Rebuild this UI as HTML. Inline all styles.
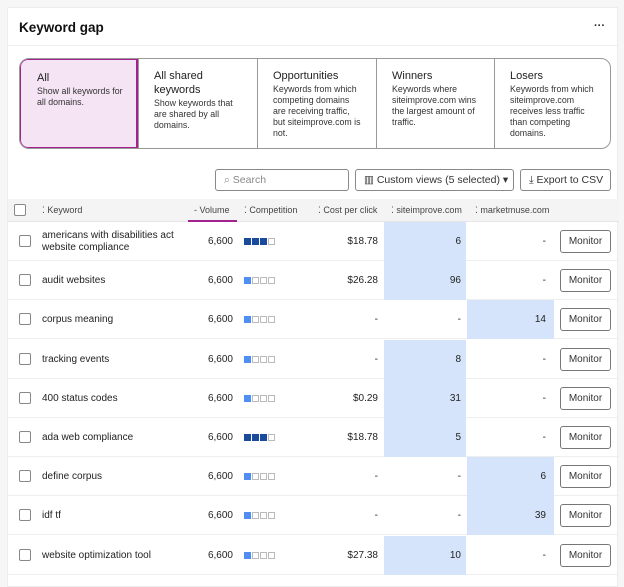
<!DOCTYPE html><html><head><style>
*{box-sizing:border-box;margin:0;padding:0}
body{width:624px;height:578px;background:#f6f6f6;font-family:"Liberation Sans",sans-serif;color:#222;position:relative;overflow:hidden}
.card{position:absolute;left:7px;top:7px;width:611px;height:580px;background:#fff;border:1px solid #ececec}
.a{position:absolute}
.title{left:11px;top:12px;font-size:13.5px;font-weight:bold;color:#111}
.hl{left:0;top:37px;width:611px;height:1px;background:#eee}
.tabs{left:11px;top:50px;width:592px;height:91px;border:1px solid #999;border-radius:10px;overflow:hidden;background:#fff}
.tab{position:absolute;top:0;height:89px;border-left:1px solid #999;padding:10px 0 0 15px;font-size:9.5px}
.tab b{display:block;font-weight:normal;font-size:11px;line-height:14px;margin-bottom:1px}
.tab p{font-size:8.8px;line-height:11px;color:#333}
.sel{background:#f4e4f4;border:2px solid #a3238e;border-radius:9px 0 0 9px;height:91px;top:-1px;left:-1px}
.btn{border:1px solid #888;border-radius:3px;height:22px;top:161px;font-size:10.5px;color:#333;line-height:20px;padding-left:8px}
.hdr{left:0;top:191px;width:611px;height:23px;background:#f4f4f4;border-bottom:1px solid #e6e6e6;font-size:9px;color:#444}
.hdr span{position:absolute;top:6px}
.cb{width:12px;height:12px;border:1px solid #888;border-radius:2px;background:#fff}
.row{left:0;width:611px;height:39px;border-bottom:1px solid #eee;font-size:10px}
.row span{position:absolute;top:14px}
.r{text-align:right}
.blue{position:absolute;top:0;height:39px;background:#d5e4fb}
.mon{position:absolute;left:552px;top:8px;width:51px;height:23px;border:1px solid #777;border-radius:3px;text-align:center;line-height:21px;font-size:10px;color:#333}
.sq{position:absolute;top:16px;left:236px;display:flex;gap:1px}
.sq i{display:block;width:7px;height:7px;border:1px solid #bbb}
.sq i.d{background:#1a4a9c;border-color:#1a4a9c}
.sq i.l{background:#4f8ef2;border-color:#4f8ef2}
</style></head><body><div class="card">
<div class="a title">Keyword gap</div>
<div class="a" style="left:586px;top:12px;font-size:11px;font-weight:bold">···</div>
<div class="a hl"></div>
<div class="a tabs">
<div class="tab sel" style="width:119px;padding-left:16px;padding-top:11px"><b>All</b><p>Show all keywords for<br>all domains.</p></div>
<div class="tab" style="left:118px;width:119px"><b>All shared<br>keywords</b><p>Show keywords that<br>are shared by all<br>domains.</p></div>
<div class="tab" style="left:237px;width:119px"><b>Opportunities</b><p>Keywords from which<br>competing domains<br>are receiving traffic,<br>but siteimprove.com is<br>not.</p></div>
<div class="tab" style="left:356px;width:118px"><b>Winners</b><p>Keywords where<br>siteimprove.com wins<br>the largest amount of<br>traffic.</p></div>
<div class="tab" style="left:474px;width:118px"><b>Losers</b><p>Keywords from which<br>siteimprove.com<br>receives less traffic<br>than competing<br>domains.</p></div>
</div>
<div class="a btn" style="left:207px;width:134px;color:#888">⌕ Search</div>
<div class="a btn" style="left:347px;width:159px">▥ Custom views (5 selected) ▾</div>
<div class="a btn" style="left:512px;width:91px">⤓ Export to CSV</div>
<div class="a hdr">
<div class="a cb" style="left:6px;top:5px"></div>
<span style="left:34px">⁚ Keyword</span>
<span style="left:186px">- Volume</span>
<div class="a" style="left:180px;top:21px;width:49px;height:2px;background:#a3238e"></div>
<span style="left:236px">⁚ Competition</span>
<span style="left:310px">⁚ Cost per click</span>
<span style="left:383px">⁚ siteimprove.com</span>
<span style="left:467px">⁚ marketmuse.com</span>
</div>
<div id="rows"></div>
</div>
<script>
var d=[["americans with disabilities act<br>website compliance",3,"$18.78","6","-",0],["audit websites",1,"$26.28","96","-",0],["corpus meaning",1,"-","-","14",1],["tracking events",1,"-","8","-",0],["400 status codes",1,"$0.29","31","-",0],["ada web compliance",3,"$18.78","5","-",0],["define corpus",1,"-","-","6",1],["idf tf",1,"-","-","39",1],["website optimization tool",1,"$27.38","10","-",0]];
var h="";d.forEach(function(r,i){var t=214+i*39.2;var sq="";for(var k=0;k<4;k++)sq+='<i class="'+(k<r[1]?(r[1]==3?'d':'l'):'')+'"></i>';
h+='<div class="a row" style="top:'+t+'px">'+(r[5]?'<div class="blue" style="left:459px;width:87px"></div>':'<div class="blue" style="left:376px;width:82px"></div>')+
'<div class="a cb" style="left:11px;top:13px"></div><span style="left:34px;'+(r[0].indexOf('<br>')>0?'top:8px;line-height:12px':'')+'">'+r[0]+'</span><span class="r" style="left:170px;width:55px">6,600</span><div class="sq">'+sq+'</div><span class="r" style="left:292px;width:78px">'+r[2]+'</span><span class="r" style="left:380px;width:73px">'+r[3]+'</span><span class="r" style="left:460px;width:78px">'+r[4]+'</span><div class="mon">Monitor</div></div>';});
document.getElementById("rows").innerHTML=h;
</script>
</body></html>
